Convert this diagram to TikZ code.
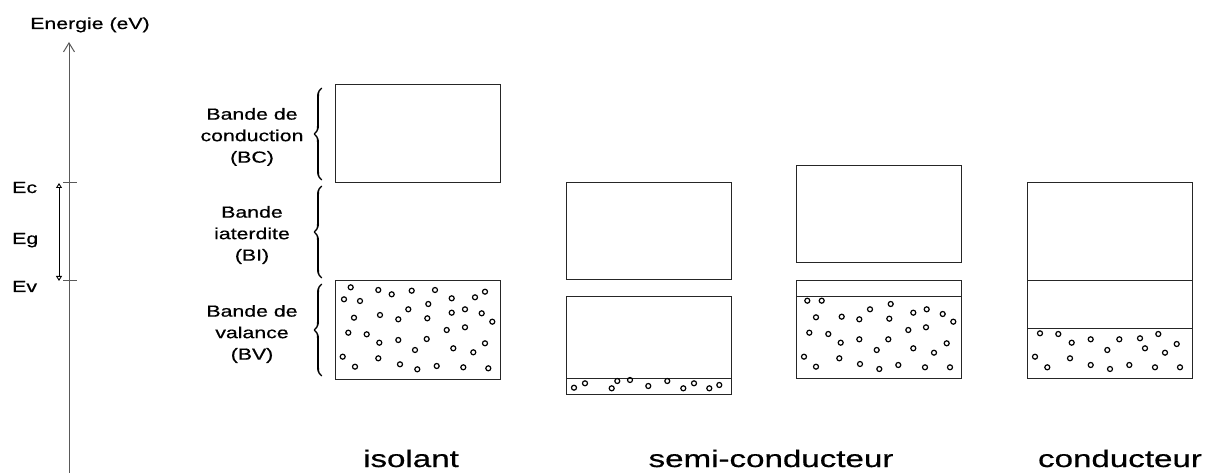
\documentclass[tikz,border=0pt]{standalone}
\usepackage{fontspec}
\setmainfont{Liberation Sans}
\newfontfamily\lblfont{Liberation Sans}[FakeStretch=1.33,FakeBold=0.6]
\newfontfamily\ttlfont{Liberation Sans}[FakeStretch=1.38,FakeBold=0.6]
\usetikzlibrary{arrows.meta,decorations.pathreplacing,calligraphy}
\begin{document}
\begin{tikzpicture}[x=1pt,y=-1pt,
  box/.style={draw=black!85,line width=1pt},
  dot/.style={draw=black,line width=1.2pt},
  lbl/.style={font=\lblfont\fontsize{16}{21.5}\selectfont,align=center,inner sep=0pt},
  ttl/.style={font=\ttlfont\fontsize{24}{28}\selectfont,inner sep=0pt,anchor=base},
  axis/.style={draw=black!65,line width=1pt},
  brc/.style={decorate,decoration={calligraphic brace,amplitude=8pt},line width=2pt}]
\useasboundingbox (0,0) rectangle (1219,473);
% axis
\coordinate (axbot) at (69,473);
\coordinate (axtop) at (69,42);
\draw[axis,-{Straight Barb[length=9pt,width=11pt]}] (axbot) -- (axtop);
\node[lbl,anchor=base] (energie) at (90,29) {Energie (eV)};
\coordinate (tc1) at (63,183); \coordinate (tc2) at (77,183);
\coordinate (tv1) at (63,281); \coordinate (tv2) at (77,281);
\draw[axis] (tc1) -- (tc2);
\draw[axis] (tv1) -- (tv2);
\coordinate (gtop) at (59,183); \coordinate (gbot) at (59,281);
\draw[line width=0.9pt,{Triangle[open,length=5pt,width=6pt]}-{Triangle[open,length=5pt,width=6pt]}] (gtop) -- (gbot);
\node[lbl,anchor=base west] (ec) at (12,193) {Ec};
\node[lbl,anchor=base west] (eg) at (12,244) {Eg};
\node[lbl,anchor=base west] (ev) at (12,292) {Ev};
% braces and labels
\coordinate (b1a) at (322,180); \coordinate (b1b) at (322,88);
\coordinate (b2a) at (322,278); \coordinate (b2b) at (322,186);
\coordinate (b3a) at (322,376); \coordinate (b3b) at (322,284);
\draw[brc] (b1a) -- (b1b);
\draw[brc] (b2a) -- (b2b);
\draw[brc] (b3a) -- (b3b);
\node[lbl] (lbc) at (252,137) {Bande de\\conduction\\(BC)};
\node[lbl] (lbi) at (252,235) {Bande\\iaterdite\\(BI)};
\node[lbl] (lbv) at (252,334) {Bande de\\valance\\(BV)};
% isolant
\draw[box] (335,85) rectangle (500,183);
\draw[box] (335,281) rectangle (500,379);
\foreach \x/\y in {350.7/287.3,378.3/290,391.7/294.3,411.7/290.7,435/290,485/291.7,475/297.3,344/299.3,360/301,451.7/298.3,428.3/304,408.3/309.3,465/309.3,451.7/312.7,481.7/313.3,354/317.7,380/315,398.3/319.3,427.3/318.3,492.3/321.7,348.3/332.7,366.7/334.3,379.3/342.7,398.3/340,426.7/339,446.7/330,465/327.3,485/343.3,415/350,453.3/348.3,473.3/352.3,342.7/356.7,378.3/358.3,355/366.7,400/364.3,417.3/369.3,436.7/366,463.3/367.3,488.3/368.3}
  \draw[dot] (\x,\y) circle[radius=2.5pt];
% semi-conducteur 1
\draw[box] (566,183) rectangle (731,280);
\draw[box] (566,297) rectangle (731,394);
\draw[box] (566,378) -- (731,378);
\foreach \x/\y in {574/387.7,585/383.3,611.7/388.3,617.3/381,630/380,648.3/386,667.3/381,683.3/388.3,694/383.3,709.3/388.3,719.3/385}
  \draw[dot] (\x,\y) circle[radius=2.5pt];
% semi-conducteur 2
\draw[box] (796,166) rectangle (961,263);
\draw[box] (796,281) rectangle (961,378);
\draw[box] (796,297) -- (961,297);
\foreach \x/\y in {807.3/300.7,821.7/300.7,816/317.3,841.7/316.7,859.3/319.3,870/309.3,890.7/304,889.3/318.7,913.3/312.7,926.7/309.3,942.7/314,953.3/321.7,809.3/332.7,828.3/334,840.7/342.7,859.3/339.3,888.3/339.3,908.3/330,926/327.3,876.7/350,913.3/348.3,934/352.7,946.7/343.3,804/356.7,816/366.7,839.3/358.3,860/364,879.3/369,898.3/365,925/367.3,950/367.3}
  \draw[dot] (\x,\y) circle[radius=2.5pt];
% conducteur
\draw[box] (1027,183) rectangle (1192,378);
\draw[box] (1027,281) -- (1192,281);
\draw[box] (1027,328) -- (1192,328);
\foreach \x/\y in {1040/333.3,1058.3/334,1071.7/342.7,1090.7/339.3,1119.3/339.3,1140/338.3,1158.3/334,1176.7/344,1107.3/350,1145/348.3,1165/352.7,1035/356.7,1047.3/367.3,1070/358.3,1090.7/365,1110/369,1129.3/365,1155/367.3,1180/367.3}
  \draw[dot] (\x,\y) circle[radius=2.5pt];
% titles
\node[ttl] (tiso) at (411,467) {isolant};
\node[ttl] (tsemi) at (771,467) {semi-conducteur};
\node[ttl] (tcond) at (1120,467) {conducteur};
\end{tikzpicture}
\end{document}
